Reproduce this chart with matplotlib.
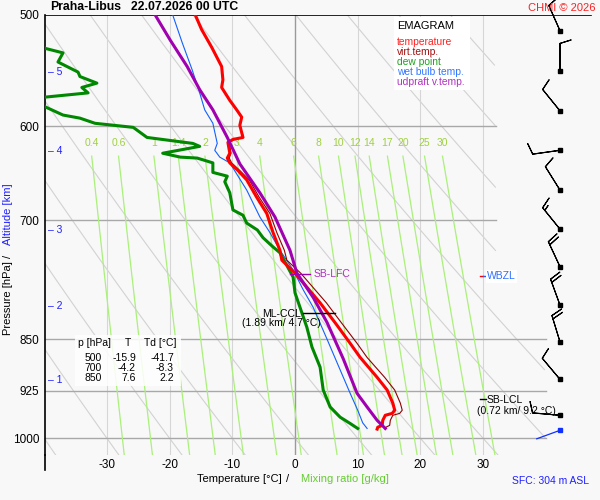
import numpy as np
import matplotlib
matplotlib.use('Agg')
import matplotlib.pyplot as plt

plt.rcParams['font.family'] = ['Liberation Sans', 'DejaVu Sans']

# sounding (hPa, degC)
temp_p = [500, 512, 527, 544, 556, 563, 575, 584, 591, 599, 611, 613, 616, 627, 632, 637,
          645, 655, 674, 692, 714, 735, 747, 763, 801, 831, 856, 876, 905, 924, 944, 955,
          960, 963, 971, 979, 982, 985]
temp_t = [-15.9, -14.9, -13.3, -11.7, -11.5, -11.7, -10.4, -9.3, -8.5, -8.8, -8.3, -9.9,
          -10.7, -10.4, -10.8, -10.4, -9.1, -7.7, -6.1, -4.5, -3.5, -2.4, -2.1, 0.0, 4.0,
          6.7, 8.8, 10.4, 13.1, 14.7, 15.6, 15.9, 15.5, 14.4, 14.0, 13.9, 13.2, 13.1]
virt_t = [-15.9, -14.9, -13.3, -11.7, -11.5, -11.7, -10.4, -9.3, -8.5, -8.8, -8.2, -9.7,
          -10.5, -10.2, -10.5, -10.1, -8.8, -7.3, -5.7, -4.0, -2.9, -1.7, -1.3, 0.9, 5.0,
          7.7, 9.9, 11.5, 14.3, 15.9, 16.8, 17.1, 16.7, 15.6, 15.2, 15.1, 14.5, 14.4]

dew_p = [500, 520, 528, 532, 540, 549, 553, 559, 563, 568, 572, 576, 581, 589, 592, 597,
         601, 611, 617, 620, 627, 631, 632, 637, 647, 651, 657, 669, 688, 694, 703, 711,
         720, 731, 738, 768, 788, 834, 861, 890, 924, 950, 966, 976, 984]
dew_t = [-41.7, -41.0, -39.9, -37.0, -37.8, -34.6, -34.3, -31.6, -34.0, -33.0, -39.9,
         -42.0, -39.9, -37.0, -34.3, -31.9, -25.8, -23.6, -16.3, -15.2, -21.1, -18.3, -15.6,
         -13.1, -13.1, -10.8, -11.2, -10.4, -9.9, -8.3, -7.7, -6.0, -5.1, -3.5, -2.4, -0.3,
         0.0, 1.9, 2.7, 4.0, 4.5, 5.6, 7.2, 8.8, 10.0]

wet_p = [500, 523, 547, 568, 584, 597, 617, 624, 631, 637, 666, 696, 714, 735, 759, 784,
         807, 850, 894, 929, 955, 975, 984]
wet_t = [-19.5, -18.0, -16.4, -15.2, -14.4, -13.1, -12.4, -12.8, -12.0, -10.4, -7.7, -5.6,
         -4.0, -2.4, -0.3, 1.3, 2.9, 5.1, 7.2, 8.8, 10.0, 10.8, 11.5]

parcel_p = [500, 521, 544, 565, 584, 611, 638, 669, 696, 735, 763, 794, 827, 878, 929, 950,
            971, 984]
parcel_t = [-22.3, -19.9, -17.2, -15.2, -13.1, -10.8, -8.8, -5.6, -3.2, -0.8, 0.3, 2.9, 5.1,
            7.7, 9.9, 11.5, 13.1, 14.4]

mix_ratios = [0.4, 0.6, 1, 1.4, 2, 3, 4, 6, 8, 10, 12, 14, 17, 20, 25, 30]
mix_labels = ['0.4', '0.6', '1', '1.4', '2', '3', '4', '6', '8', '10', '12', '14', '17',
              '20', '25', '30']

p_ticks = [500, 600, 700, 850, 925, 1000]
t_ticks = [-30, -20, -10, 0, 10, 20, 30]

alt_km = [1, 2, 3, 4, 5]
alt_p = [909, 805, 711, 625, 549]

wind_p = [963, 908, 854, 804, 755, 710, 666, 624, 585, 548, 513]
wind_dir = [275, 320, 343, 340, 335, 321, 328, 262, 321, 360, 336]
wind_kt = [10, 10, 20, 20, 20, 15, 10, 10, 10, 10, 10]
sfc_p = 987
sfc_dir = 250

table_p = [500, 700, 850]
table_t = [-15.9, -4.2, 7.6]
table_td = [-41.7, -8.3, 2.2]

W, H = 600, 500


def fx(px):
    return px / W


def fy(py):
    return 1 - py / H


def right_edge(p):
    return np.where(p < 810, 32.0, 40.0)


BG = '#f8f8f8'
fig = plt.figure(figsize=(6, 5), dpi=100, facecolor=BG)
ax = fig.add_axes([fx(45), fy(455), fx(600) - fx(45), fy(15) - fy(455)])
ax.set_facecolor(BG)
ax.set_yscale('log')
p_bot = 1027.7
ax.set_ylim(p_bot, 500)
ax.set_xlim((45 - 295) / 6.27, (600 - 295) / 6.27)
for s in ['top', 'right', 'bottom']:
    ax.spines[s].set_visible(False)
ax.spines['left'].set_linewidth(1.2)
ax.plot([0, 0], [0, -15 / 440], transform=ax.transAxes, color='black', lw=1.2,
        clip_on=False)

ax.set_yticks(p_ticks)
ax.set_yticklabels([str(p) for p in p_ticks])
ax.yaxis.set_minor_locator(matplotlib.ticker.NullLocator())
ax.tick_params(axis='y', length=0, pad=4, labelsize=8.5)
ax.set_xticks(t_ticks)
ax.set_xticklabels([str(t) for t in t_ticks])
ax.tick_params(axis='x', length=0, pad=3, labelsize=8.5)

pp = np.geomspace(500, p_bot, 300)

# dry adiabats
for t1000 in range(-40, 110, 10):
    tt = (t1000 + 273.15) * (pp / 1000) ** 0.2857 - 273.15
    tt = np.where(tt > right_edge(pp), np.nan, tt)
    ax.plot(tt, pp, color='#d2d2d2', lw=0.8, zorder=1)

# isotherms
for t in t_ticks:
    ax.plot([t, t], [500, p_bot], color='#9a9a9a' if t == 0 else '#d6d6d6',
            lw=1.0 if t == 0 else 0.8, zorder=1)

# isobars
for p in p_ticks[1:]:
    ax.plot([ax.get_xlim()[0], 32 if p < 810 else 40], [p, p], color='#a8a8a8', lw=1.0,
            zorder=1)
ax.plot([ax.get_xlim()[0], 47.2], [500, 500], color='black', lw=1.2, zorder=5)

# mixing ratio lines
pm = np.geomspace(630, p_bot, 200)
for w, lab in zip(mix_ratios, mix_labels):
    e = w * pm / (622 + w)
    a = np.log(e / 6.112)
    tt = 243.5 * a / (17.67 - a)
    tt = np.where(tt > right_edge(pm), np.nan, tt)
    ax.plot(tt, pm, color='#aaf07a', lw=0.9, zorder=2)
    ax.text(tt[0], 616.6, lab, color='#a0d040', fontsize=7.5, ha='center', va='center',
            zorder=3)

# profiles
ax.plot(wet_t, wet_p, color='#1060ff', lw=0.8, zorder=6)
ax.plot(dew_t, dew_p, color='#008800', lw=2.2, zorder=6)
ax.plot(virt_t, temp_p, color='#900000', lw=0.8, zorder=7)
ax.plot(temp_t, temp_p, color='#ff0000', lw=2.2, zorder=8)
ax.plot(parcel_t, parcel_p, color='#a000b0', lw=2.2, zorder=9)

# altitude marks
for km, p in zip(alt_km, alt_p):
    ax.text(-39.4, p, '– ' + str(km), color='#2020ff', fontsize=7.5, va='center', ha='left')

# levels
ax.plot([-0.8, 2.4], [764, 764], color='#a000b0', lw=1, zorder=10)
ax.text(2.9, 764, 'SB-LFC', color='#b030c0', fontsize=7.5, va='center', zorder=10)
ax.plot([1.3, 6.4], [814.6, 814.6], color='black', lw=1, zorder=10)
ax.text(-2.2, 822, 'ML-CCL\n(1.89 km/ 4.7 °C)', color='black', fontsize=7.5, ha='center',
        va='center', linespacing=0.95, zorder=10)
ax.plot([29.5, 30.5], [937.6, 937.6], color='black', lw=1, zorder=10)
ax.text(30.6, 939, 'SB-LCL', color='black', fontsize=7.5, va='center', zorder=10)
ax.text(29.0, 956, '(0.72 km/ 9.2 °C)', color='black', fontsize=7.5, va='center', zorder=10)
ax.plot([29.5, 30.0], [766, 766], color='red', lw=1, zorder=10)
ax.plot([30.0, 30.5], [766, 766], color='#2060ff', lw=1, zorder=10)
ax.text(30.6, 767, 'WBZL', color='#3070ff', fontsize=7.5, va='center', zorder=10,
        bbox=dict(facecolor='white', edgecolor='none', pad=1))

# winds
xb = (560 - 295) / 6.27
d = np.radians(wind_dir)
u = -np.array(wind_kt) * np.sin(d)
v = -np.array(wind_kt) * np.cos(d)
ax.barbs(np.full(len(wind_p), xb), wind_p, u, v, length=6.3, lw=0.8, color='black',
         clip_on=False, zorder=10)
ax.plot(np.full(len(wind_p), xb), wind_p, 's', ms=2.5, color='black', clip_on=False,
        zorder=11)
ds = np.radians(sfc_dir)
ax.annotate('', xy=(xb, sfc_p), xytext=(18 * np.sin(ds), 18 * np.cos(ds)),
            textcoords='offset points', annotation_clip=False,
            arrowprops=dict(arrowstyle='-', color='#1030ff', lw=0.9, shrinkA=0, shrinkB=0))
ax.plot([xb], [sfc_p], 's', ms=2.5, color='#1030ff', clip_on=False, zorder=11)

# texts around
fig.text(fx(50), fy(7), 'Praha-Libus', fontsize=8.8, weight='bold', va='center')
fig.text(fx(131), fy(7), '22.07.2026 00 UTC', fontsize=8.8, weight='bold', va='center')
fig.text(fx(596), fy(8), 'CHMI © 2026', color='#ff2020', fontsize=8, ha='right', va='center')
fig.text(fx(8), fy(298), 'Pressure [hPa]', rotation=90, fontsize=8, ha='center', va='center')
fig.text(fx(8), fy(256), '/', rotation=90, fontsize=8, ha='center', va='center')
fig.text(fx(8), fy(214), 'Altitude [km]', rotation=90, fontsize=8, color='#2020ff',
         ha='center', va='center')
fig.text(fx(239), fy(479), 'Temperature [°C]', fontsize=8, ha='center', va='center')
fig.text(fx(288), fy(479), '/', fontsize=8, ha='center', va='center')
fig.text(fx(345), fy(479), 'Mixing ratio [g/kg]', fontsize=8, color='#66cc33', ha='center',
         va='center')
fig.text(fx(589), fy(481), 'SFC: 304 m ASL', fontsize=7.5, color='#2020ff', ha='right',
         va='center')

# legend box
fig.patches.append(plt.Rectangle((fx(394), fy(90)), fx(76), fy(17) - fy(90),
                                 transform=fig.transFigure, facecolor='white',
                                 edgecolor='none', zorder=20))
fig.text(fx(397), fy(26), 'EMAGRAM', fontsize=8, va='center', zorder=21)
leg = [('temperature', '#ff2020'), ('virt.temp.', '#a01010'), ('dew point', '#20a020'),
       ('wet bulb temp.', '#3377ff'), ('udpraft v.temp.', '#b030c0')]
for i, (name, c) in enumerate(leg):
    fig.text(fx(397), fy(42 + 10 * i), name, color=c, fontsize=7.4, va='center', zorder=21)

# value table
fig.patches.append(plt.Rectangle((fx(75), fy(386)), fx(106), fy(335) - fy(386),
                                 transform=fig.transFigure, facecolor='white',
                                 edgecolor='none', alpha=0.85, zorder=20))
fig.text(fx(78), fy(343), 'p [hPa]', fontsize=7.5, va='center', zorder=21)
fig.text(fx(128), fy(343), 'T', fontsize=7.5, va='center', ha='center', zorder=21)
fig.text(fx(144), fy(343), 'Td [°C]', fontsize=7.5, va='center', zorder=21)
for i, (p, t, td) in enumerate(zip(table_p, table_t, table_td)):
    yy = fy(358 + 10 * i)
    fig.text(fx(102), yy, str(p), fontsize=7.5, ha='right', va='center', zorder=21)
    fig.text(fx(136), yy, f'{t:.1f}', fontsize=7.5, ha='right', va='center', zorder=21)
    fig.text(fx(174), yy, f'{td:.1f}', fontsize=7.5, ha='right', va='center', zorder=21)

fig.savefig('out.png', dpi=100, facecolor=BG)
